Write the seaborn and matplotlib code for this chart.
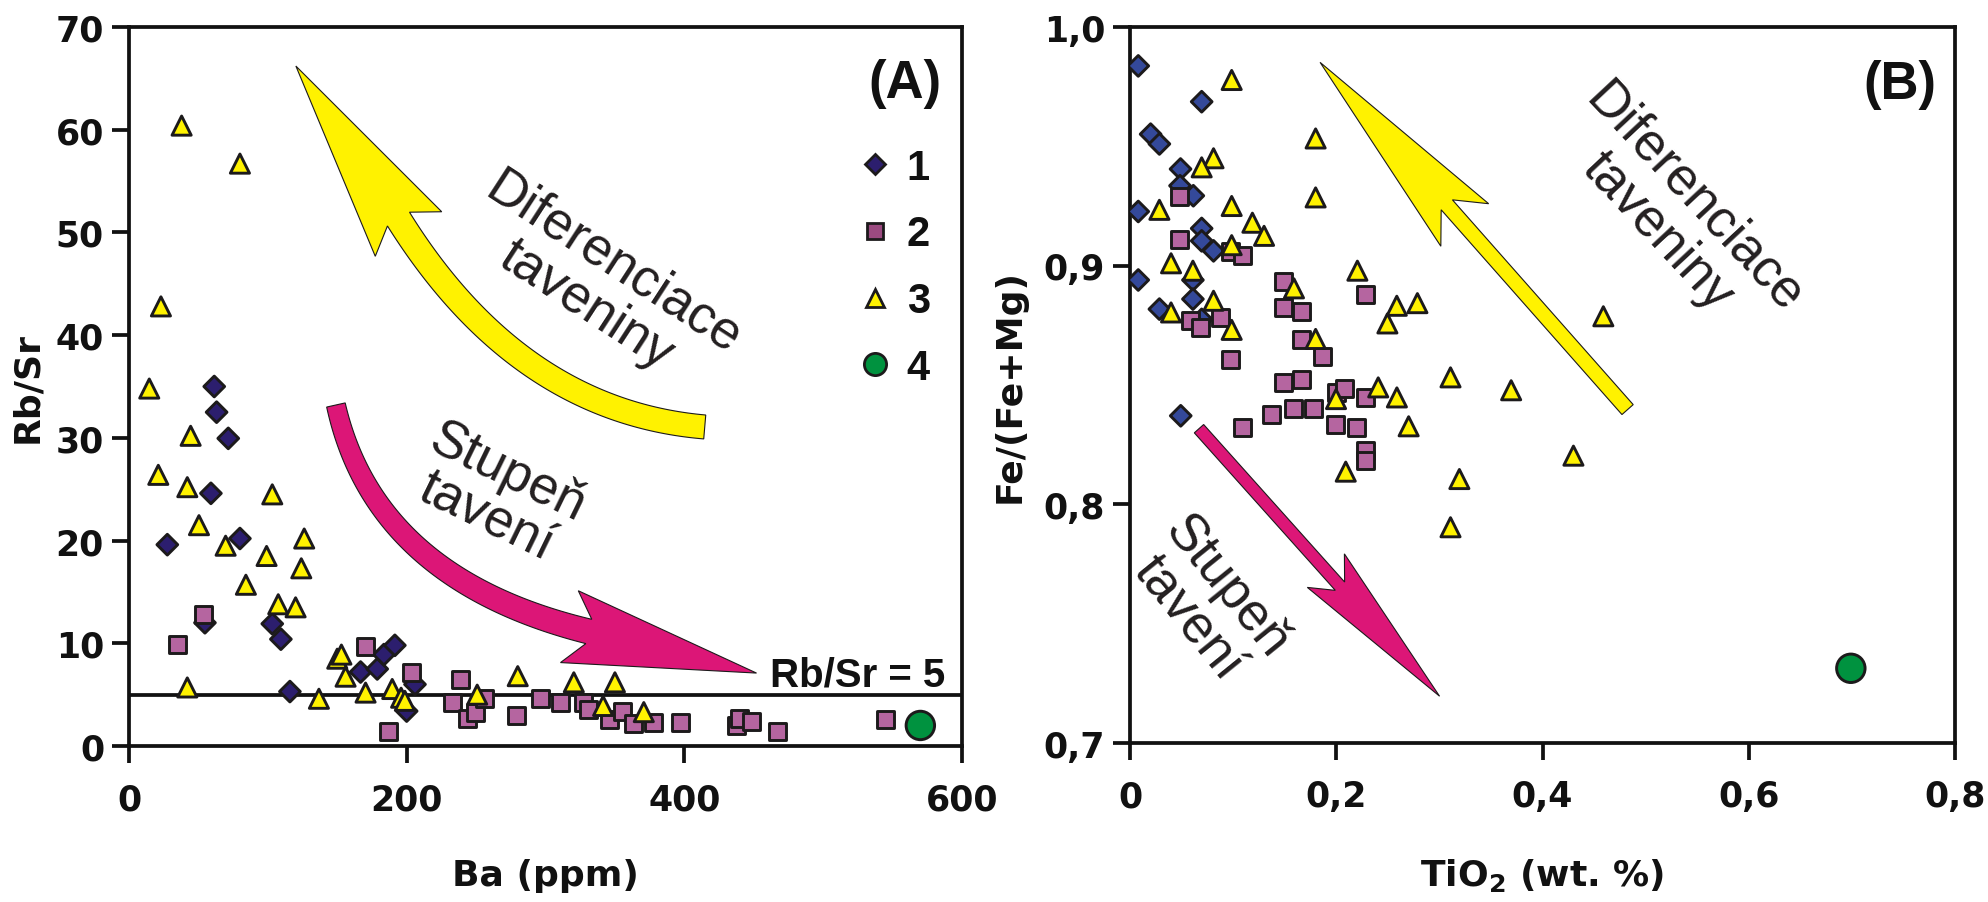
import numpy as np
import pandas as pd
import matplotlib
matplotlib.use("Agg")
import matplotlib.pyplot as plt
import seaborn as sns
from matplotlib.lines import Line2D
from matplotlib.patches import Polygon
from matplotlib.transforms import IdentityTransform

# ---------------- data : panel A (Ba ppm vs Rb/Sr) ----------------
a1_x = [61.4, 63.1, 71.5, 59, 27.6, 79.9, 54.7, 103.2, 109.4, 115.9, 166.8, 178.8, 183.6, 191.5, 200, 206]
a1_y = [35.0, 32.5, 29.95, 24.6, 19.6, 20.2, 12.0, 11.9, 10.4, 5.3, 7.2, 7.5, 8.9, 9.8, 3.4, 6.0]

a2_x = [54, 35, 170, 203.5, 186.7, 239, 232.8, 243.6, 249.8, 256.3, 279, 296.4, 310.8, 327.6, 331,
        346.3, 355.2, 363.1, 378, 397.2, 437.5, 440, 448.3, 466.8, 544.8]
a2_y = [12.85, 9.9, 9.7, 7.2, 1.4, 6.5, 4.2, 2.7, 3.3, 4.6, 3.0, 4.6, 4.2, 4.2, 3.6,
        2.6, 3.35, 2.2, 2.3, 2.3, 2.0, 2.7, 2.4, 1.4, 2.6]

a3_x = [37.9, 79.9, 23, 14.6, 44.4, 21.1, 42, 103.2, 50.4, 69.6, 126.2, 99.1, 124.1, 84.2, 107.5, 120,
        42, 136.8, 150, 153, 156, 170.4, 189.6, 196, 198.7, 250.8, 280, 320.4, 350, 341.5, 370.8]
a3_y = [60.4, 56.7, 42.8, 34.8, 30.2, 26.4, 25.2, 24.5, 21.5, 19.5, 20.2, 18.5, 17.3, 15.7, 13.8, 13.5,
        5.7, 4.6, 8.5, 8.9, 6.75, 5.2, 5.55, 4.7, 4.4, 5.0, 6.8, 6.2, 6.2, 3.9, 3.3]

a4_x = [570]
a4_y = [2.0]

# ---------------- data : panel B (TiO2 vs Fe/(Fe+Mg)) ----------------
b1_x = [0.008, 0.0695, 0.020, 0.0285, 0.049, 0.0485, 0.0614, 0.008, 0.0695, 0.0695, 0.081, 0.008,
        0.061, 0.061, 0.0285, 0.0695, 0.0492]
b1_y = [0.9837, 0.9687, 0.9551, 0.951, 0.9405, 0.9335, 0.9293, 0.9227, 0.9156, 0.9104, 0.9062, 0.894,
        0.894, 0.886, 0.8818, 0.8775, 0.8371]

b2_x = [0.048, 0.048, 0.097, 0.109, 0.059, 0.068, 0.088, 0.097, 0.149, 0.228, 0.149, 0.1665, 0.1665,
        0.187, 0.149, 0.1665, 0.1998, 0.2079, 0.2283, 0.1375, 0.1583, 0.1784, 0.1087, 0.1992, 0.2196,
        0.2283, 0.2283]
b2_y = [0.9289, 0.9111, 0.9058, 0.9042, 0.877, 0.8741, 0.8783, 0.8606, 0.8932, 0.8878, 0.8825, 0.881,
        0.869, 0.862, 0.8512, 0.8525, 0.8469, 0.8485, 0.8448, 0.8376, 0.8402, 0.8402, 0.8323, 0.8336,
        0.832, 0.8227, 0.8183]

b3_x = [0.0986, 0.180, 0.081, 0.0695, 0.180, 0.0285, 0.0986, 0.1187, 0.130, 0.0986, 0.0398, 0.061,
        0.2205, 0.159, 0.081, 0.0398, 0.2587, 0.2787, 0.2496, 0.0986, 0.180, 0.459, 0.3108, 0.3696,
        0.1998, 0.2407, 0.2588, 0.2702, 0.430, 0.2092, 0.3194, 0.3108]
b3_y = [0.9778, 0.9533, 0.945, 0.9412, 0.9286, 0.9234, 0.925, 0.918, 0.9125, 0.9086, 0.901, 0.8979,
        0.8979, 0.8905, 0.8853, 0.8804, 0.8832, 0.8843, 0.8758, 0.8731, 0.8693, 0.8788, 0.8532, 0.8478,
        0.8441, 0.849, 0.8448, 0.8327, 0.8204, 0.8137, 0.8106, 0.7904]

b4_x = [0.699]
b4_y = [0.7313]

groups = ["1", "2", "3", "4"]
a_xticks = [0, 200, 400, 600]
a_yticks = [0, 10, 20, 30, 40, 50, 60, 70]
b_xticks = [0, 0.2, 0.4, 0.6, 0.8]
b_xticklabels = ["0", "0,2", "0,4", "0,6", "0,8"]
b_yticks = [0.7, 0.8, 0.9, 1.0]
b_yticklabels = ["0,7", "0,8", "0,9", "1,0"]

# ---------------- styling ----------------
sns.set_style("ticks")
plt.rcParams["font.family"] = ["DejaVu Sans"]

EDGE = "#1c1a1b"
AXC = "#111111"
YELLOW = "#fff200"
MAGENTA = "#dc1677"
markers = {"1": "D", "2": "s", "3": "^", "4": "o"}
sizes = {"1": 112, "2": 150, "3": 190, "4": 420}
pal_a = {"1": "#2c1e6e", "2": "#b565a0", "3": YELLOW, "4": "#00923f"}
pal_b = {"1": "#34499a", "2": "#b565a0", "3": YELLOW, "4": "#00923f"}


def frame(xs, ys):
    parts = []
    for g, x, y in zip(groups, xs, ys):
        parts.append(pd.DataFrame({"x": x, "y": y, "g": g}))
    return pd.concat(parts, ignore_index=True)


df_a = frame([a1_x, a2_x, a3_x, a4_x], [a1_y, a2_y, a3_y, a4_y])
df_b = frame([b1_x, b2_x, b3_x, b4_x], [b1_y, b2_y, b3_y, b4_y])

fig = plt.figure(figsize=(19.88, 9.03), dpi=100)
axA = fig.add_axes([129 / 1988, 1 - 747 / 903, (962 - 129) / 1988, (747 - 28) / 903])
axB = fig.add_axes([1130 / 1988, 1 - 744 / 903, (1955 - 1130) / 1988, (744 - 28) / 903])

for ax, df, pal in [(axA, df_a, pal_a), (axB, df_b, pal_b)]:
    sns.scatterplot(data=df, x="x", y="y", hue="g", style="g", size="g",
                    palette=pal, markers=markers, sizes=sizes, size_order=groups,
                    hue_order=groups, style_order=groups,
                    edgecolor=EDGE, linewidth=2.1, legend=False, ax=ax, zorder=3)
    for s in ax.spines.values():
        s.set_linewidth(2.7)
        s.set_color(AXC)
        s.set_visible(True)
    ax.tick_params(axis="both", which="major", direction="out", length=12, width=2.7,
                   color=AXC, labelsize=25, labelcolor=AXC, top=False, right=False)
    ax.tick_params(axis="y", pad=6)
    ax.tick_params(axis="x", pad=14)

# Panel A axes
axA.set_xlim(0, 600)
axA.set_ylim(0, 70)
axA.set_xticks(a_xticks)
axA.set_yticks(a_yticks)
axA.set_xticklabels([str(v) for v in a_xticks], fontweight="heavy", fontsize=25)
axA.set_yticklabels([str(v) for v in a_yticks], fontweight="heavy", fontsize=25)
axA.set_xlabel("Ba (ppm)", fontsize=26, fontweight="bold", labelpad=30, color=AXC)
axA.set_ylabel("Rb/Sr", fontsize=26, fontweight="bold", labelpad=8, color=AXC)
axA.axhline(5, color=AXC, lw=2.7, zorder=2)
axA.text(588, 5.9, "Rb/Sr = 5", ha="right", va="baseline", fontsize=29,
         fontweight="bold", family=["Liberation Sans"], color=AXC, zorder=5)
axA.text(0.932, 0.922, "(A)", transform=axA.transAxes, ha="center", va="center",
         fontsize=38, fontweight="bold", family=["Liberation Sans"], color=AXC)

# Panel B axes
axB.set_xlim(0, 0.8)
axB.set_ylim(0.7, 1.0)
axB.set_xticks(b_xticks)
axB.set_yticks(b_yticks)
axB.set_xticklabels(b_xticklabels, fontweight="heavy", fontsize=25)
axB.set_yticklabels(b_yticklabels, fontweight="heavy", fontsize=25)
axB.set_xlabel("TiO$_\\mathbf{2}$ (wt. %)", fontsize=26, fontweight="bold", labelpad=31, color=AXC)
axB.set_ylabel("Fe/(Fe+Mg)", fontsize=26, fontweight="bold", labelpad=12, color=AXC)
axB.text(0.933, 0.920, "(B)", transform=axB.transAxes, ha="center", va="center",
         fontsize=38, fontweight="bold", family=["Liberation Sans"], color=AXC)

# legend in panel A
handles = [Line2D([], [], ls="none", marker=markers[g], markersize=ms,
                  markerfacecolor=pal_a[g], markeredgecolor=EDGE, markeredgewidth=2.0)
           for g, ms in zip(groups, [10, 11, 12.5, 16])]
handles[1].set_markerfacecolor("#9b4a80")
leg = axA.legend(handles, groups, loc="upper left", bbox_to_anchor=(0.876, 0.832),
                 frameon=False, borderpad=0, borderaxespad=0, handlelength=0.8,
                 handletextpad=0.35, labelspacing=0.64,
                 prop={"family": ["Liberation Sans"], "weight": "bold", "size": 30})
for t in leg.get_texts():
    t.set_color(AXC)


# ---------------- arrows ----------------
def curved_arrow(ax, p0, c, p2, tip, w_tail, w_base, head_hw, head_back, color):
    T = ax.transData
    P0, C, P2, TIP = [np.array(T.transform(p)) for p in (p0, c, p2, tip)]
    t = np.linspace(0, 1, 80)[:, None]
    B = (1 - t) ** 2 * P0 + 2 * (1 - t) * t * C + t ** 2 * P2
    dB = 2 * (1 - t) * (C - P0) + 2 * t * (P2 - C)
    dB = dB / np.linalg.norm(dB, axis=1, keepdims=True)
    n = np.column_stack([-dB[:, 1], dB[:, 0]])
    w = (w_tail + (w_base - w_tail) * t) / 2
    left = B + n * w
    right = B - n * w
    d = (TIP - P2) / np.linalg.norm(TIP - P2)
    m = np.array([-d[1], d[0]])
    if np.dot(m, n[-1]) < 0:
        m = -m
    barb_l = P2 + m * head_hw - d * head_back
    barb_r = P2 - m * head_hw - d * head_back
    pts = np.vstack([left, barb_l, TIP, barb_r, right[::-1]])
    poly = Polygon(pts, closed=True, transform=IdentityTransform(), facecolor=color,
                   edgecolor=EDGE, lw=0.8, zorder=1.5)
    fig.add_artist(poly)


curved_arrow(axA, (414.7, 31.06), (280.4, 32.6), (194.1, 51.3), (120.2, 66.2),
             24, 26, 40, 18, YELLOW)
curved_arrow(axA, (149.05, 33.2), (177.1, 16.26), (331.2, 11.15), (452, 7.1),
             19, 25, 37, 20, MAGENTA)
mid_b1 = ((0.4825 + 0.3072) / 2, (0.8397 + 0.9255) / 2)
curved_arrow(axB, (0.4825, 0.8397), mid_b1, (0.3072, 0.9255), (0.1843, 0.9852),
             15, 15, 32, 27, YELLOW)
mid_b2 = ((0.0669 + 0.2036) / 2, (0.8317 + 0.7657) / 2)
curved_arrow(axB, (0.0669, 0.8317), mid_b2, (0.2036, 0.7657), (0.3002, 0.7196),
             12.5, 12.5, 25, 21, MAGENTA)

# ---------------- annotation texts ----------------
txt_kw = dict(ha="center", va="center", fontsize=38, family=["Liberation Sans"],
              color="#231f20", linespacing=1.0, rotation_mode="anchor", zorder=4)
axA.text(339.2, 45.0, "Diferenciace\ntaveniny", rotation=-33, **txt_kw)
axA.text(265, 24.5, "Stupeň\ntavení", rotation=-26, **txt_kw)
axB.text(0.5296, 0.9216, "Diferenciace\ntaveniny", rotation=-47, **txt_kw)
axB.text(0.0745, 0.759, "Stupeň\ntavení", rotation=-51, **txt_kw)

fig.savefig("out.png", dpi=100)
